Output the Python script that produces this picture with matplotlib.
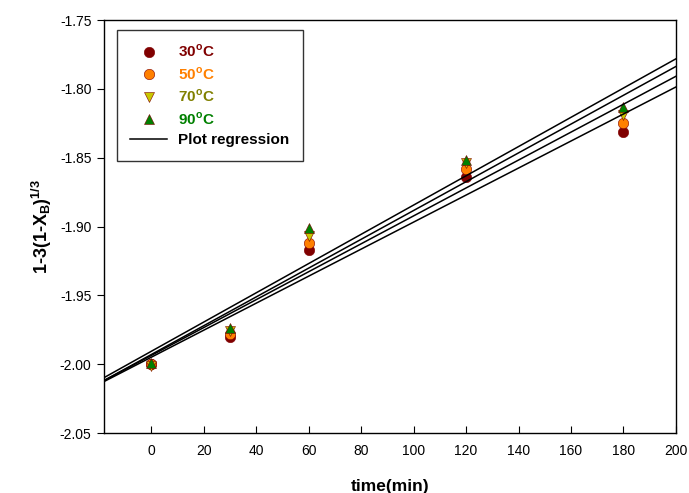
import matplotlib.pyplot as plt
import numpy as np

plt.rcParams['font.family'] = ['Liberation Sans', 'DejaVu Sans']
plt.rcParams['mathtext.fontset'] = 'custom'
plt.rcParams['mathtext.rm'] = 'Liberation Sans'
plt.rcParams['mathtext.bf'] = 'Liberation Sans:bold'

time = np.array([0, 30, 60, 120, 180])
y_30 = [-2.000, -1.980, -1.917, -1.864, -1.831]
y_50 = [-2.000, -1.978, -1.912, -1.858, -1.825]
y_70 = [-2.001, -1.976, -1.907, -1.854, -1.819]
y_90 = [-1.999, -1.974, -1.901, -1.852, -1.813]

labels = ['30', '50', '70', '90']
series = [y_30, y_50, y_70, y_90]
face = ['#800000', '#ff8000', '#c8c800', '#008000']
text_col = ['#800000', '#ff8000', '#808000', '#008000']
markers = ['o', 'o', 'v', '^']

fig = plt.figure(figsize=(6.89, 4.93), dpi=100)
ax = fig.add_axes([0.151, 0.1217, 0.830, 0.8377])

xfit = np.array([-18, 200])
handles = []
for lab, ys, fc, mk in zip(labels, series, face, markers):
    h, = ax.plot(time, ys, linestyle='none', marker=mk, markersize=7.5,
                 markerfacecolor=fc, markeredgecolor='#800000',
                 markeredgewidth=0.4, label=lab + r'$^\mathbf{o}$C', zorder=2)
    handles.append(h)
for ys in series:
    k, b = np.polyfit(time, ys, 1)
    reg, = ax.plot(xfit, k * xfit + b, color='black', lw=1.1, zorder=3)
reg.set_label('Plot regression')
handles.append(reg)

ax.set_xlim(-18, 200)
ax.set_ylim(-2.05, -1.75)
ax.set_xticks(range(0, 201, 20))
ax.set_yticks(np.arange(-2.05, -1.7499, 0.05))
ax.set_yticklabels([f'{v:.2f}' for v in np.arange(-2.05, -1.7499, 0.05)])
ax.tick_params(axis='x', direction='in', length=5, labelsize=10, pad=8)
ax.tick_params(axis='y', direction='out', length=5, labelsize=10, pad=4)
for s in ax.spines.values():
    s.set_linewidth(1.0)

ax.set_xlabel('time(min)', fontsize=12.5, fontweight='bold', labelpad=15)
ax.set_ylabel(r'1-3(1-X$_\mathbf{B}$)$^\mathbf{1/3}$', fontsize=13,
              fontweight='bold', labelpad=4)

leg = ax.legend(handles=handles, loc='upper left', bbox_to_anchor=(0.022, 0.977),
                frameon=True, fancybox=False, edgecolor='black',
                prop={'weight': 'bold', 'size': 11}, handlelength=2.4,
                handletextpad=0.7, borderpad=0.9, labelspacing=0.38,
                borderaxespad=0)
leg.get_frame().set_linewidth(1.0)
for t, c in zip(leg.get_texts(), text_col + ['black']):
    t.set_color(c)

fig.savefig('out.png', dpi=100)
